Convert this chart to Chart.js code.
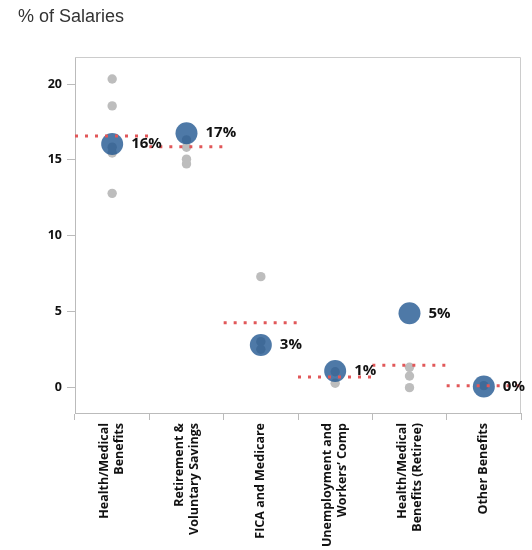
<!DOCTYPE html>
<html><head><meta charset="utf-8">
<script src="https://cdn.jsdelivr.net/npm/chart.js@4/dist/chart.umd.min.js"></script>
<style>html,body{margin:0;padding:0;background:#fff}</style>
</head><body>
<canvas id="c" width="532" height="550"></canvas>
<script>
// ---- data ----
const categories = [
  ['Health/Medical', 'Benefits'],
  ['Retirement &', 'Voluntary Savings'],
  'FICA and Medicare',
  ['Unemployment and', 'Workers’ Comp'],
  ['Health/Medical', 'Benefits (Retiree)'],
  'Other Benefits'
];
const averageValues   = [16.05, 16.76, 2.81, 1.10, 4.90, 0.07];
const benchmarkValues = [16.58, 15.87, 4.28, 0.70, 1.47, 0.13];
const healthPeers       = [20.33, 18.56, 15.84, 15.46, 12.80];
const retirementPeers   = [16.32, 15.84, 15.05, 14.74];
const ficaPeers         = [7.31, 3.03, 2.53];
const unemploymentPeers = [1.05, 0.29];
const retireePeers      = [1.34, 0.77, 0.00];
const otherPeers        = [0.13];
const peerGroups = [healthPeers, retirementPeers, ficaPeers, unemploymentPeers, retireePeers, otherPeers];
const yTickValues = [0, 5, 10, 15, 20];
const yTitle = '% of Salaries';

// ---- category scale with centred multi-line rotated labels ----
class CenteredCategory extends Chart.CategoryScale {
  _computeLabelItems(chartArea) {
    const items = super._computeLabelItems(chartArea);
    items.forEach(it => {
      const n = Array.isArray(it.label) ? it.label.length : 1;
      it.options.translation[0] -= (n - 1) * it.font.lineHeight / 2;
    });
    return items;
  }
}
CenteredCategory.id = 'centeredCategory';
Chart.register(CenteredCategory);

const peerPoints = [];
peerGroups.forEach((g, i) => g.forEach(v => peerPoints.push({x: i, y: v})));
const avgPoints = averageValues.map((v, i) => ({x: i, y: v}));
const benchPoints = [];
benchmarkValues.forEach((v, i) => {
  benchPoints.push({x: i - 0.5, y: v}, {x: i + 0.5, y: v}, {x: i + 0.5, y: null});
});

const TICK_FONT = {family: '"Open Sans", "Noto Sans", sans-serif', size: 12.5, weight: 'bold', lineHeight: 1.2};

const titlePlugin = {
  id: 'yTitle',
  afterDraw(chart) {
    const ctx = chart.ctx;
    ctx.save();
    ctx.font = '18px "Liberation Sans", Arial, sans-serif';
    ctx.fillStyle = '#333';
    ctx.textBaseline = 'middle';
    ctx.textAlign = 'left';
    ctx.fillText(yTitle, 18, 17);
    ctx.restore();
  }
};
const framePlugin = {
  id: 'frame',
  beforeDatasetsDraw(chart) {
    const a = chart.chartArea, ctx = chart.ctx;
    ctx.save();
    ctx.strokeStyle = '#cccccc';
    ctx.lineWidth = 1;
    ctx.beginPath();
    ctx.moveTo(a.left, a.top + 0.5);
    ctx.lineTo(a.right - 0.5, a.top + 0.5);
    ctx.lineTo(a.right - 0.5, a.bottom);
    ctx.stroke();
    ctx.restore();
  }
};
const valueLabelPlugin = {
  id: 'valueLabels',
  afterDraw(chart) {
    const meta = chart.getDatasetMeta(1);
    const ctx = chart.ctx;
    ctx.save();
    ctx.font = 'bold 15px "Open Sans", "Noto Sans", sans-serif';
    ctx.fillStyle = '#111';
    ctx.textBaseline = 'middle';
    ctx.textAlign = 'left';
    meta.data.forEach((pt, i) => {
      ctx.fillText(Math.round(averageValues[i]) + '%', pt.x + 19, pt.y);
    });
    ctx.restore();
  }
};

new Chart(document.getElementById('c'), {
  type: 'scatter',
  data: {
    datasets: [
      {
        label: 'Peers', data: peerPoints, xAxisID: 'xl', yAxisID: 'y', order: 3,
        pointRadius: 4.7, pointHoverRadius: 4.7, pointBackgroundColor: '#bdbdbd', pointBorderWidth: 0
      },
      {
        label: 'Average', data: avgPoints, xAxisID: 'xl', yAxisID: 'y', order: 2, clip: false,
        pointRadius: 11, pointHoverRadius: 11, pointBackgroundColor: 'rgba(25,81,141,0.77)', pointBorderWidth: 0
      },
      {
        label: 'Benchmark', type: 'line', data: benchPoints, xAxisID: 'xl', yAxisID: 'y', order: 1, clip: false,
        showLine: true, spanGaps: false, pointRadius: 0, borderColor: '#e15759', borderWidth: 3,
        borderDash: [3, 7], borderCapStyle: 'butt', fill: false, tension: 0
      }
    ]
  },
  options: {
    responsive: false,
    animation: false,
    events: [],
    layout: {padding: {top: 57, right: 9, left: 0, bottom: 0}},
    plugins: {legend: {display: false}, tooltip: {enabled: false}, title: {display: false}},
    scales: {
      x: {
        type: 'centeredCategory',
        labels: categories,
        position: 'bottom',
        offset: true,
        grid: {offset: true, drawOnChartArea: false, drawTicks: true, tickLength: 7, color: '#bbbbbb', lineWidth: 1},
        border: {display: true, color: '#bbbbbb', width: 1},
        ticks: {autoSkip: false, maxRotation: 90, minRotation: 90, padding: 3, color: '#111', font: TICK_FONT},
        afterFit(scale) { scale.height = 137; }
      },
      xl: {
        type: 'linear', position: 'bottom', display: false, min: -0.5, max: 5.5
      },
      y: {
        type: 'linear', position: 'left', min: -1.67, max: 21.78,
        afterBuildTicks(scale) { scale.ticks = yTickValues.map(v => ({value: v})); },
        grid: {drawOnChartArea: false, drawTicks: true, tickLength: 8, color: '#bbbbbb'},
        border: {display: true, color: '#bbbbbb', width: 1},
        ticks: {padding: 5, color: '#111', font: TICK_FONT},
        afterFit(scale) { scale.width = 75; }
      }
    }
  },
  plugins: [framePlugin, valueLabelPlugin, titlePlugin]
});
</script>
</body></html>
